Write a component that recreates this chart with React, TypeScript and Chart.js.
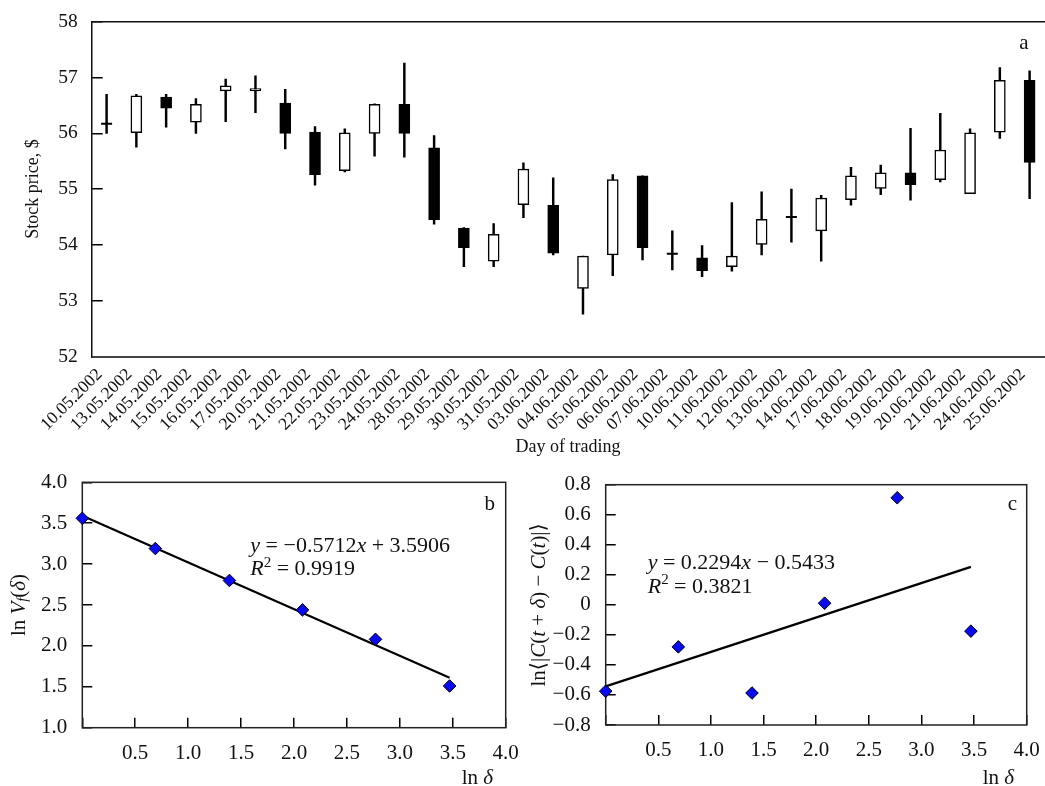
import React, { useEffect, useRef } from 'react';
import { Chart, registerables } from 'chart.js';

Chart.register(...registerables);

const FONT = "'Liberation Serif', 'Times New Roman', 'DejaVu Serif', serif";

// ---------- Panel a: daily candles ----------
const dates = [
  '10.05.2002', '13.05.2002', '14.05.2002', '15.05.2002', '16.05.2002', '17.05.2002',
  '20.05.2002', '21.05.2002', '22.05.2002', '23.05.2002', '24.05.2002', '28.05.2002',
  '29.05.2002', '30.05.2002', '31.05.2002', '03.06.2002', '04.06.2002', '05.06.2002',
  '06.06.2002', '07.06.2002', '10.06.2002', '11.06.2002', '12.06.2002', '13.06.2002',
  '14.06.2002', '17.06.2002', '18.06.2002', '19.06.2002', '20.06.2002', '21.06.2002',
  '24.06.2002', '25.06.2002',
];
const opens = [
  56.17, 56.01, 56.65, 56.2, 56.76, 56.76, 56.54, 56.02, 55.33, 56.0, 56.52, 55.74,
  54.3, 53.71, 54.72, 54.71, 53.22, 53.82, 55.24, 53.84, 53.77, 53.61, 54.01, 54.5,
  54.25, 54.81, 55.01, 55.29, 55.17, 54.92, 56.02, 56.95,
];
const highs = [
  56.7, 56.7, 56.7, 56.62, 56.97, 57.03, 56.79, 56.12, 56.08, 56.53, 57.26, 55.96,
  54.31, 54.38, 55.47, 55.2, 53.8, 55.26, 55.24, 54.25, 53.99, 54.76, 54.95, 55.0,
  54.89, 55.39, 55.43, 56.09, 56.36, 56.08, 57.18, 57.12,
];
const lows = [
  56.0, 55.75, 56.11, 56.0, 56.21, 56.37, 55.72, 55.07, 55.31, 55.59, 55.57, 54.37,
  53.61, 53.61, 54.49, 53.82, 52.76, 53.45, 53.73, 53.55, 53.43, 53.53, 53.82, 54.05,
  53.71, 54.71, 54.9, 54.8, 55.13, 54.92, 55.91, 54.83,
];
const closes = [
  56.17, 56.67, 56.45, 56.52, 56.85, 56.8, 56.0, 55.26, 56.01, 56.52, 56.0, 54.45,
  53.95, 54.19, 55.36, 53.85, 53.8, 55.17, 53.95, 53.84, 53.54, 53.8, 54.46, 54.5,
  54.84, 55.24, 55.29, 55.08, 55.7, 56.01, 56.95, 55.48,
];
const priceMin = 52;
const priceMax = 58;
const priceStep = 1;

// ---------- Panels b and c ----------
const lnDelta = [0, 0.69, 1.39, 2.08, 2.77, 3.47];
const lnVf = [3.56, 3.19, 2.8, 2.44, 2.08, 1.51];
const lnDiff = [-0.575, -0.28, -0.587, 0.011, 0.713, -0.175];
const trendX = [0, 3.47];
const trendVf = [3.59, 1.61];
const trendDiff = [-0.543, 0.253];

type Seg = { t: string; i?: boolean; sub?: boolean; sup?: boolean };

function segFont(s: Seg, size: number) {
  const sz = s.sub || s.sup ? size * 0.68 : size;
  return `${s.i ? 'italic ' : ''}${sz}px ${FONT}`;
}
function richWidth(ctx: CanvasRenderingContext2D, segs: Seg[], size: number) {
  let w = 0;
  for (const s of segs) {
    ctx.font = segFont(s, size);
    w += ctx.measureText(s.t).width;
  }
  return w;
}
function drawRich(
  ctx: CanvasRenderingContext2D,
  segs: Seg[],
  x: number,
  y: number,
  size: number,
  align: 'left' | 'right' | 'center',
) {
  const w = richWidth(ctx, segs, size);
  let cx = align === 'left' ? x : align === 'right' ? x - w : x - w / 2;
  ctx.textAlign = 'left';
  for (const s of segs) {
    ctx.font = segFont(s, size);
    const dy = s.sup ? -size * 0.38 : s.sub ? size * 0.22 : 0;
    ctx.fillText(s.t, cx, y + dy);
    cx += ctx.measureText(s.t).width;
  }
}

const TEXT = '#111';

function numLabel(v: number) {
  if (Math.abs(v) < 1e-9) return '0';
  return v.toFixed(1).replace('-', '\u2212');
}

function App() {
  const aRef = useRef<HTMLCanvasElement>(null);
  const bRef = useRef<HTMLCanvasElement>(null);
  const cRef = useRef<HTMLCanvasElement>(null);

  useEffect(() => {
    const charts: Chart[] = [];

    // ---------------- panel a ----------------
    const bodyColors = opens.map((o, i) => (closes[i] < o ? '#000' : '#fff'));
    const doji = opens.map((o, i) => (o === closes[i] ? o : null));

    const frameA = {
      id: 'frameA',
      beforeDatasetsDraw(chart: any) {
        const { ctx, chartArea: ca } = chart;
        ctx.save();
        ctx.strokeStyle = '#111';
        ctx.lineWidth = 1.5;
        ctx.beginPath();
        ctx.moveTo(ca.left, ca.top);
        ctx.lineTo(ca.right + 2, ca.top);
        ctx.stroke();
        ctx.restore();
      },
      afterDraw(chart: any) {
        const { ctx, chartArea: ca } = chart;
        ctx.save();
        ctx.fillStyle = TEXT;
        ctx.textBaseline = 'alphabetic';
        drawRich(ctx, [{ t: 'a' }], ca.right - 16, ca.top + 27, 21, 'right');
        ctx.restore();
      },
    };

    charts.push(
      new Chart(aRef.current!, {
        type: 'bar',
        data: {
          labels: dates,
          datasets: [
            {
              type: 'bar',
              data: opens.map((o, i) => [o, closes[i]]) as any,
              backgroundColor: bodyColors,
              borderColor: '#000',
              borderWidth: 1.5,
              borderSkipped: false,
              barThickness: 11,
              grouped: false,
              order: 1,
            } as any,
            {
              type: 'line',
              data: doji as any,
              showLine: false,
              pointStyle: 'line',
              pointRadius: 5.5,
              pointBorderWidth: 2,
              pointBorderColor: '#000',
              borderColor: '#000',
              order: 0,
            } as any,
            {
              type: 'bar',
              data: lows.map((l, i) => [l, highs[i]]) as any,
              backgroundColor: '#000',
              borderWidth: 0,
              barThickness: 1.8,
              grouped: false,
              order: 2,
            } as any,
          ],
        },
        options: {
          responsive: false,
          animation: false,
          events: [],
          layout: { padding: { top: 21.7, right: 2, left: 0, bottom: 0 } },
          plugins: { legend: { display: false }, tooltip: { enabled: false } },
          scales: {
            x: {
              offset: true,
              grid: { display: false },
              border: { display: true, color: '#444', width: 2 },
              ticks: {
                autoSkip: false,
                minRotation: 45,
                maxRotation: 45,
                padding: 0,
                labelOffset: -7,
                color: TEXT,
                font: { size: 17.5, family: FONT },
              },
              title: {
                display: true,
                text: 'Day of trading',
                color: TEXT,
                font: { size: 18, family: FONT },
                padding: { top: 0, bottom: 4 },
              },
              afterFit: (s: any) => {
                s.height = 462 - 356.5;
                s.paddingLeft = 0;
                s.paddingRight = 0;
              },
            },
            y: {
              min: priceMin,
              max: priceMax,
              ticks: {
                stepSize: priceStep,
                autoSkip: false,
                padding: 25,
                color: TEXT,
                font: { size: 19.5, family: FONT },
              },
              grid: {
                drawOnChartArea: false,
                drawTicks: true,
                tickLength: -11,
                color: '#000',
                lineWidth: 1.5,
              },
              border: { display: true, color: '#111', width: 1.5 },
              title: {
                display: true,
                text: 'Stock price, $',
                color: TEXT,
                font: { size: 18, family: FONT },
                padding: { top: 22, bottom: 0 },
              },
              afterFit: (s: any) => {
                s.width = 91.7;
                s.paddingTop = 0;
                s.paddingBottom = 0;
              },
            },
          },
        } as any,
        plugins: [frameA],
      }),
    );

    // ---------------- panels b and c ----------------
    const makeScatter = (
      canvas: HTMLCanvasElement,
      ys: number[],
      trendY: number[],
      yMin: number,
      yMax: number,
      yStep: number,
      pad: { top: number; right: number },
      yWidth: number,
      xHeight: number,
      extra: (ctx: CanvasRenderingContext2D, ca: any) => void,
    ) => {
      const frame = {
        id: 'frameBC',
        beforeDatasetsDraw(chart: any) {
          const { ctx, chartArea: ca } = chart;
          ctx.save();
          ctx.strokeStyle = '#222';
          ctx.lineWidth = 1.5;
          ctx.strokeRect(ca.left, ca.top, ca.right - ca.left, ca.bottom - ca.top);
          ctx.restore();
        },
        afterDraw(chart: any) {
          const { ctx, chartArea: ca } = chart;
          ctx.save();
          ctx.fillStyle = TEXT;
          ctx.textBaseline = 'alphabetic';
          extra(ctx, ca);
          ctx.restore();
        },
      };
      return new Chart(canvas, {
        type: 'scatter',
        data: {
          datasets: [
            {
              data: lnDelta.map((x, i) => ({ x, y: ys[i] })),
              pointStyle: 'rectRot',
              pointRadius: 6.3,
              backgroundColor: '#0a0af0',
              borderColor: '#000',
              borderWidth: 1,
              clip: false,
              order: 0,
            } as any,
            {
              data: trendX.map((x, i) => ({ x, y: trendY[i] })),
              showLine: true,
              pointRadius: 0,
              borderColor: '#000',
              borderWidth: 2.2,
              clip: false,
              order: 1,
            } as any,
          ],
        },
        options: {
          responsive: false,
          animation: false,
          events: [],
          layout: { autoPadding: false, padding: { top: pad.top, right: pad.right, left: 0, bottom: 0 } },
          plugins: { legend: { display: false }, tooltip: { enabled: false } },
          scales: {
            x: {
              type: 'linear',
              min: 0,
              max: 4,
              ticks: {
                stepSize: 0.5,
                autoSkip: false,
                padding: 23,
                color: TEXT,
                font: { size: 21, family: FONT },
                callback: (v: any) => (Math.abs(v) < 1e-9 ? '' : Number(v).toFixed(1)),
              },
              grid: {
                drawOnChartArea: false,
                tickLength: -10,
                color: '#000',
                lineWidth: 1.5,
              },
              border: { display: false },
              afterFit: (s: any) => {
                s.height = xHeight;
                s.paddingLeft = 0;
                s.paddingRight = 0;
              },
            },
            y: {
              min: yMin,
              max: yMax,
              ticks: {
                stepSize: yStep,
                autoSkip: false,
                padding: 25,
                color: TEXT,
                font: { size: 21, family: FONT },
                callback: (v: any) => numLabel(Number(v)),
              },
              grid: {
                drawOnChartArea: false,
                tickLength: -10,
                color: '#000',
                lineWidth: 1.5,
              },
              border: { display: false },
              afterFit: (s: any) => {
                s.width = yWidth;
                s.paddingTop = 0;
                s.paddingBottom = 0;
              },
            },
          },
        } as any,
        plugins: [frame],
      });
    };

    charts.push(
      makeScatter(
        bRef.current!,
        lnVf,
        trendVf,
        1,
        4,
        0.5,
        { top: 17.3, right: 14.3 },
        82.3,
        321 - 262.7,
        (ctx, ca) => {
          drawRich(ctx, [{ t: 'b' }], ca.right - 10.7, ca.top + 28, 21, 'right');
          drawRich(
            ctx,
            [{ t: 'y', i: true }, { t: ' = \u22120.5712' }, { t: 'x', i: true }, { t: ' + 3.5906' }],
            ca.left + 168,
            ca.top + 70,
            22,
            'left',
          );
          drawRich(
            ctx,
            [{ t: 'R', i: true }, { t: '2', sup: true }, { t: ' = 0.9919' }],
            ca.left + 168,
            ca.top + 93,
            22,
            'left',
          );
          drawRich(ctx, [{ t: 'ln ' }, { t: '\u03b4', i: true }], ca.right - 12.7, 319, 21, 'right');
          ctx.save();
          ctx.translate(19, (ca.top + ca.bottom) / 2);
          ctx.rotate(-Math.PI / 2);
          ctx.textBaseline = 'middle';
          drawRich(
            ctx,
            [
              { t: 'ln ' },
              { t: 'V', i: true },
              { t: 'f', i: true, sub: true },
              { t: '(' },
              { t: '\u03b4', i: true },
              { t: ')' },
            ],
            0,
            0,
            21,
            'center',
          );
          ctx.restore();
        },
      ),
    );

    charts.push(
      makeScatter(
        cRef.current!,
        lnDiff,
        trendDiff,
        -0.8,
        0.8,
        0.2,
        { top: 19.7, right: 18.3 },
        85.7,
        321 - 260,
        (ctx, ca) => {
          drawRich(ctx, [{ t: 'c' }], ca.right - 9.7, ca.top + 25, 21, 'right');
          drawRich(
            ctx,
            [{ t: 'y', i: true }, { t: ' = 0.2294' }, { t: 'x', i: true }, { t: ' \u2212 0.5433' }],
            ca.left + 42,
            ca.top + 84,
            22,
            'left',
          );
          drawRich(
            ctx,
            [{ t: 'R', i: true }, { t: '2', sup: true }, { t: ' = 0.3821' }],
            ca.left + 42,
            ca.top + 108,
            22,
            'left',
          );
          drawRich(ctx, [{ t: 'ln ' }, { t: '\u03b4', i: true }], ca.right - 12.7, 319, 21, 'right');
          ctx.save();
          ctx.translate(19, (ca.top + ca.bottom) / 2);
          ctx.rotate(-Math.PI / 2);
          ctx.textBaseline = 'middle';
          drawRich(
            ctx,
            [
              { t: 'ln\u27e8|' },
              { t: 'C', i: true },
              { t: '(' },
              { t: 't', i: true },
              { t: ' + ' },
              { t: '\u03b4', i: true },
              { t: ') \u2212 ' },
              { t: 'C', i: true },
              { t: '(' },
              { t: 't', i: true },
              { t: ')|\u27e9' },
            ],
            0,
            0,
            21,
            'center',
          );
          ctx.restore();
        },
      ),
    );

    return () => {
      charts.forEach((c) => c.destroy());
    };
  }, []);

  return (
    <div
      style={{
        position: 'fixed',
        left: 0,
        top: 0,
        width: 1045,
        height: 786,
        overflow: 'hidden',
        background: '#fff',
      }}
    >
      <canvas ref={aRef} width={1052} height={462} style={{ position: 'absolute', left: 0, top: 0 }} />
      <canvas ref={bRef} width={520} height={321} style={{ position: 'absolute', left: 0, top: 465 }} />
      <canvas ref={cRef} width={525} height={321} style={{ position: 'absolute', left: 520, top: 465 }} />
    </div>
  );
}

export default App;
